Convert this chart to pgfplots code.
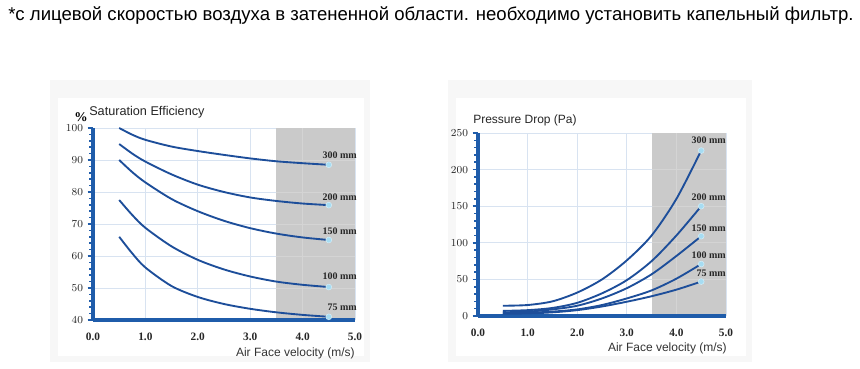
\documentclass[border=0pt]{standalone}
\usepackage{fontspec}
\setmainfont{Liberation Serif}
\newfontfamily\arial{Liberation Sans}
\usepackage{pgfplots}
\pgfplotsset{compat=1.18}
\definecolor{curve}{HTML}{1D4E9A}
\definecolor{axblue}{HTML}{1F5CAA}
\definecolor{shadegray}{HTML}{CACACA}
\definecolor{gridc}{HTML}{D8E3F1}
\definecolor{shgrid}{HTML}{D4D4D4}
\definecolor{mk}{HTML}{A6DCF2}
\definecolor{panel}{HTML}{F7F7F7}
\tikzset{lab/.style={anchor=east, inner sep=0pt, font=\fontsize{7.5}{8}\selectfont\bfseries, text=black!85}}
\pgfplotsset{
  mychart/.style={
    scale only axis,
    axis lines*=left,
    axis line style={axblue, line width=3pt},
    xmin=0, xmax=5,
    xtick={0,1,2,3,4,5}, xticklabels={0.0,1.0,2.0,3.0,4.0,5.0},
    tick label style={font=\fontsize{8.5}{9}\selectfont\bfseries, text=black!85},
    xtick style={draw=none},
    ytick style={axblue, line width=1.2pt},
    minor y tick num=4,
    minor tick length=3pt,
    major tick length=4pt,
    tick align=outside,
    grid=major, major grid style={gridc, line width=0.6pt},
    xticklabel style={yshift=-2pt},
    yticklabel style={xshift=0pt},
    clip=false,
  },
  crv/.style={curve, line width=1.4pt, smooth},
  endmk/.style={only marks, mark=*, mark size=2.2pt, mark options={fill=mk, draw=mk!50!white, line width=0.4pt}},
}
\begin{document}
\begin{tikzpicture}
\path (0,0) rectangle (645pt,276pt);
\begin{scope}[x=0.75pt,y=0.75pt]
% title line
\node[anchor=base west, inner sep=0pt] at (8,347) {\resizebox{634pt}{!}{\arial *с лицевой скоростью воздуха в затененной области. необходимо установить капельный фильтр.}};
% panels
\fill[panel] (50,288) rectangle (370,6);
\fill[white] (58,270) rectangle (364,12);
\fill[panel] (448,288) rectangle (752,6);
\fill[white] (456,270) rectangle (746,12);
% left chart titles
\node[anchor=base, inner sep=0pt, font=\fontsize{10}{11}\selectfont\bfseries] at (81,246) {\%};
\node[anchor=base west, inner sep=0pt, font=\arial\fontsize{9.5}{11}\selectfont, text=black!85] at (89,252) {Saturation Efficiency};
\node[anchor=base east, inner sep=0pt, font=\arial\fontsize{9}{11}\selectfont, text=black!80] at (355,12) {Air Face velocity (m/s)};
% right chart titles
\node[anchor=base west, inner sep=0pt, font=\arial\fontsize{9}{11}\selectfont, text=black!85] at (473,244) {Pressure Drop (Pa)};
\node[anchor=base east, inner sep=0pt, font=\arial\fontsize{9}{11}\selectfont, text=black!80] at (727,17) {Air Face velocity (m/s)};
\end{scope}

\begin{axis}[mychart, at={(69.75pt,36pt)}, anchor=origin, width=196.5pt, height=144pt,
  ymin=40, ymax=100, ytick={40,50,60,70,80,90,100}]
\fill[shadegray] ([yshift=1.5pt]axis cs:3.5,40) rectangle (axis cs:5,100);
\draw[shgrid, line width=0.6pt] ([yshift=1.5pt]axis cs:4,40) -- (axis cs:4,100);
\foreach \yy in {50,60,70,80,90} {\edef\tmp{\noexpand\draw[shgrid, line width=0.6pt] (axis cs:3.5,\yy) -- (axis cs:5,\yy);}\tmp}
\addplot[crv] coordinates {(0.5,100) (0.75,97.9) (1.0,96.3) (1.5,94.2) (2.0,92.8) (2.5,91.6) (3.0,90.5) (3.5,89.6) (4.0,89.0) (4.5,88.5)};
\addplot[crv] coordinates {(0.5,95) (0.75,92) (1.0,89.5) (1.5,85.5) (2.0,82.3) (2.5,80.0) (3.0,78.3) (3.5,77.2) (4.0,76.4) (4.5,75.9)};
\addplot[crv] coordinates {(0.5,90) (0.75,86.2) (1.0,83) (1.5,77.8) (2.0,74) (2.5,71) (3.0,68.7) (3.5,67) (4.0,65.8) (4.5,65)};
\addplot[crv] coordinates {(0.5,77.5) (0.75,72.8) (1.0,68.8) (1.5,63) (2.0,58.8) (2.5,55.8) (3.0,53.6) (3.5,52) (4.0,51) (4.5,50.3)};
\addplot[crv] coordinates {(0.5,66) (0.75,60.8) (1.0,56.4) (1.5,50.6) (2.0,47.2) (2.5,45.0) (3.0,43.5) (3.5,42.4) (4.0,41.6) (4.5,41)};
\addplot[endmk] coordinates {(4.5,88.5) (4.5,75.9) (4.5,65) (4.5,50.3) (4.5,41)};
\node[lab] at (axis cs:5.04,91.6) {300 mm};
\node[lab] at (axis cs:5.04,78.4) {200 mm};
\node[lab] at (axis cs:5.04,67.8) {150 mm};
\node[lab] at (axis cs:5.04,53.8) {100 mm};
\node[lab] at (axis cs:5.04,44.0) {75 mm};
\end{axis}

\begin{axis}[mychart, at={(358.5pt,39pt)}, anchor=origin, width=186pt, height=137.25pt,
  ymin=0, ymax=250, ytick={0,50,100,150,200,250}]
\fill[shadegray] ([yshift=1.5pt]axis cs:3.5,0) rectangle (axis cs:5,250);
\draw[shgrid, line width=0.6pt] ([yshift=1.5pt]axis cs:4,0) -- (axis cs:4,250);
\foreach \yy in {50,100,150,200} {\edef\tmp{\noexpand\draw[shgrid, line width=0.6pt] (axis cs:3.5,\yy) -- (axis cs:5,\yy);}\tmp}
\addplot[crv] coordinates {(0.5,14) (1.0,15) (1.5,20) (2.0,32) (2.5,50) (3.0,76) (3.5,110) (4.0,160) (4.5,226)};
\addplot[crv] coordinates {(0.5,7) (1.0,8) (1.5,11) (2.0,18) (2.5,31) (3.0,49) (3.5,75) (4.0,110) (4.5,150)};
\addplot[crv] coordinates {(0.5,5) (1.0,6) (1.5,9) (2.0,14) (2.5,24) (3.0,38) (3.5,57) (4.0,82) (4.5,109)};
\addplot[crv] coordinates {(0.5,4) (1.0,4.5) (1.5,6) (2.0,9) (2.5,15) (3.0,24) (3.5,35) (4.0,51) (4.5,71)};
\addplot[crv] coordinates {(0.5,3) (1.0,3.5) (1.5,5) (2.0,8) (2.5,13) (3.0,19.5) (3.5,27) (4.0,36) (4.5,47)};
\addplot[endmk] coordinates {(4.5,226) (4.5,150) (4.5,109) (4.5,71) (4.5,47)};
\node[lab] at (axis cs:5.0,240) {300 mm};
\node[lab] at (axis cs:5.0,162) {200 mm};
\node[lab] at (axis cs:5.0,120) {150 mm};
\node[lab] at (axis cs:5.0,83) {100 mm};
\node[lab] at (axis cs:5.0,59) {75 mm};
\end{axis}
\end{tikzpicture}
\end{document}
